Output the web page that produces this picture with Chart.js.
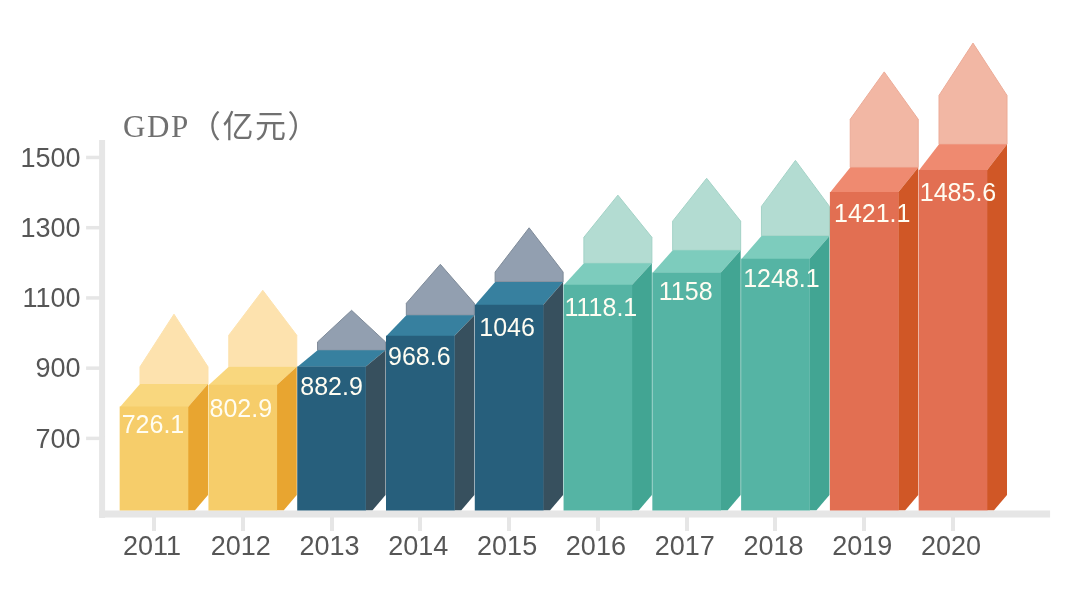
<!DOCTYPE html>
<html lang="zh">
<head>
<meta charset="utf-8">
<title>GDP（亿元）</title>
<script src="https://cdn.jsdelivr.net/npm/chart.js@4"></script>
<style>
    html, body { margin: 0; padding: 0; background: #ffffff; }
    canvas { display: block; }
</style>
</head>
<body>
<canvas id="grafico" width="1080" height="610"></canvas>
<script>
// Categories and printed labels
const anos = ['2011', '2012', '2013', '2014', '2015', '2016', '2017', '2018', '2019', '2020'];
const rotulos = ['726.1', '802.9', '882.9', '968.6', '1046', '1118.1', '1158', '1248.1', '1421.1', '1485.6'];
const ticksY = [700, 900, 1100, 1300, 1500];

// The drawing does not follow its printed numbers, so the heights are read against the axis
const topoFrente = [789, 851, 903, 991, 1079, 1136, 1171, 1210, 1400, 1463];
const topoFundo = [854, 903, 950, 1050, 1145, 1198, 1235, 1276, 1471, 1537];
const ombroSeta = [903, 993, 974, 1084, 1173, 1272, 1318, 1360, 1608, 1676];
const pontaSeta = [1053, 1121, 1064, 1195, 1299, 1392, 1440, 1491, 1743, 1825];
const baseBarra = 495;
const peLateral = 538; // where the side face meets the floor at the back

// Colour group of each year
const grupos = [0, 0, 1, 1, 1, 2, 2, 2, 3, 3];
const CORES = [
    { frente: '#f6cd6a', topo: '#f9d77e', lado: '#e8a530', seta: '#fde2ae', contorno: '#fde2ae' },
    { frente: '#275f7c', topo: '#37809f', lado: '#37505e', seta: '#929fb0', contorno: '#7f8b99' },
    { frente: '#55b4a4', topo: '#7dccbd', lado: '#42a593', seta: '#b3dcd2', contorno: '#a3d2c6' },
    { frente: '#e26f52', topo: '#ef8a70', lado: '#d05726', seta: '#f2b7a4', contorno: '#ecab97' }
];
const COR_EIXO = '#e6e6e6';
const COR_TEXTO = '#565656';

// Small hand adjustments of the labels on the bars
const ajusteX = [-1, -2, 0, -1, -2, 3, -1, 6, 8, 5];
const ajusteY = [19, 25, 21, 22, 24, 24, 20, 21, 23, 24];

const PROF_X = 20; // depth of the box, in pixels

const caixas3d = {
    id: 'caixas3d',
    beforeDraw(chart) {
        const { ctx, chartArea, scales } = chart;
        ctx.save();
        ctx.fillStyle = COR_EIXO;
        // axis lines
        ctx.fillRect(chartArea.left - 10.5, 140, 6, chartArea.bottom - 136);
        ctx.fillRect(chartArea.left - 10.5, chartArea.bottom - 3.5, 951, 7);
        // y tick marks
        ticksY.forEach(v => {
            const y = scales.y.getPixelForValue(v);
            ctx.fillRect(chartArea.left - 23.5, y - 1.5, 18, 3.5);
        });
        ctx.restore();
    },
    beforeDatasetsDraw(chart) {
        const { ctx, scales } = chart;
        const y = scales.y;
        chart.getDatasetMeta(0).data.forEach((barra, i) => {
            const cor = CORES[grupos[i]];
            const esq = barra.x - barra.width / 2;
            const dir = barra.x + barra.width / 2;
            const yFrente = y.getPixelForValue(topoFrente[i]);
            const yFundo = y.getPixelForValue(topoFundo[i]);
            const yOmbro = y.getPixelForValue(ombroSeta[i]);
            const yPonta = y.getPixelForValue(pontaSeta[i]);
            const yBase = y.getPixelForValue(baseBarra);
            const yPe = y.getPixelForValue(peLateral);

            // arrow behind the box
            ctx.beginPath();
            ctx.moveTo(esq + PROF_X, yFundo);
            ctx.lineTo(esq + PROF_X, yOmbro);
            ctx.lineTo((esq + dir) / 2 + PROF_X, yPonta);
            ctx.lineTo(dir + PROF_X, yOmbro);
            ctx.lineTo(dir + PROF_X, yFundo);
            ctx.closePath();
            ctx.fillStyle = cor.seta;
            ctx.fill();
            ctx.strokeStyle = cor.contorno;
            ctx.lineWidth = 1;
            ctx.stroke();

            // top face
            ctx.beginPath();
            ctx.moveTo(esq, yFrente);
            ctx.lineTo(dir, yFrente);
            ctx.lineTo(dir + PROF_X, yFundo);
            ctx.lineTo(esq + PROF_X, yFundo);
            ctx.closePath();
            ctx.fillStyle = cor.topo;
            ctx.fill();

            // side face
            ctx.beginPath();
            ctx.moveTo(dir, yFrente);
            ctx.lineTo(dir + PROF_X, yFundo);
            ctx.lineTo(dir + PROF_X, yPe);
            ctx.lineTo(dir + 7, yBase);
            ctx.lineTo(dir, yBase);
            ctx.closePath();
            ctx.fillStyle = cor.lado;
            ctx.fill();
        });
    },
    afterDatasetsDraw(chart) {
        const { ctx, scales } = chart;
        ctx.save();
        ctx.font = '25px "Liberation Sans", Arial, sans-serif';
        ctx.fillStyle = '#fffdf2';
        ctx.textAlign = 'center';
        ctx.textBaseline = 'middle';
        chart.getDatasetMeta(0).data.forEach((barra, i) => {
            ctx.fillText(rotulos[i], barra.x + ajusteX[i],
                scales.y.getPixelForValue(topoFrente[i]) + ajusteY[i]);
        });

        // axis title
        ctx.textAlign = 'left';
        ctx.textBaseline = 'alphabetic';
        ctx.fillStyle = '#707070';
        ctx.letterSpacing = '1.6px';
        ctx.font = '31px "Liberation Serif", "Noto Sans CJK SC", serif';
        ctx.fillText('GDP（亿元）', 123, 137);
        ctx.restore();
    }
};

new Chart(document.getElementById('grafico').getContext('2d'), {
    type: 'bar',
    data: {
        labels: anos,
        datasets: [{
            label: 'GDP（亿元）',
            data: topoFrente,
            base: baseBarra,
            backgroundColor: grupos.map(g => CORES[g].frente),
            barThickness: 68,
            borderWidth: 0
        }]
    },
    options: {
        responsive: false,
        animation: false,
        layout: { padding: { top: 18, right: 82.6, left: 0, bottom: 0 } },
        plugins: {
            legend: { display: false },
            tooltip: { enabled: false }
        },
        scales: {
            x: {
                afterFit: scale => { scale.height = 96; },
                border: { display: false },
                grid: {
                    offset: false,
                    drawOnChartArea: false,
                    color: COR_EIXO,
                    lineWidth: 4,
                    tickLength: 17
                },
                ticks: {
                    color: COR_TEXTO,
                    font: { family: '"Liberation Sans", Arial, sans-serif', size: 27 },
                    padding: 0,
                    labelOffset: -2,
                    autoSkip: false,
                    maxRotation: 0
                }
            },
            y: {
                min: 484,
                max: 1819,
                afterBuildTicks: scale => { scale.ticks = ticksY.map(v => ({ value: v })); },
                afterFit: scale => { scale.width = 109.6; },
                border: { display: false },
                grid: { display: false, drawTicks: false },
                ticks: {
                    color: COR_TEXTO,
                    font: { family: '"Liberation Sans", Arial, sans-serif', size: 27 },
                    padding: 29,
                    labelOffset: 2,
                    callback: v => String(v)
                }
            }
        }
    },
    plugins: [caixas3d]
});
</script>
</body>
</html>
